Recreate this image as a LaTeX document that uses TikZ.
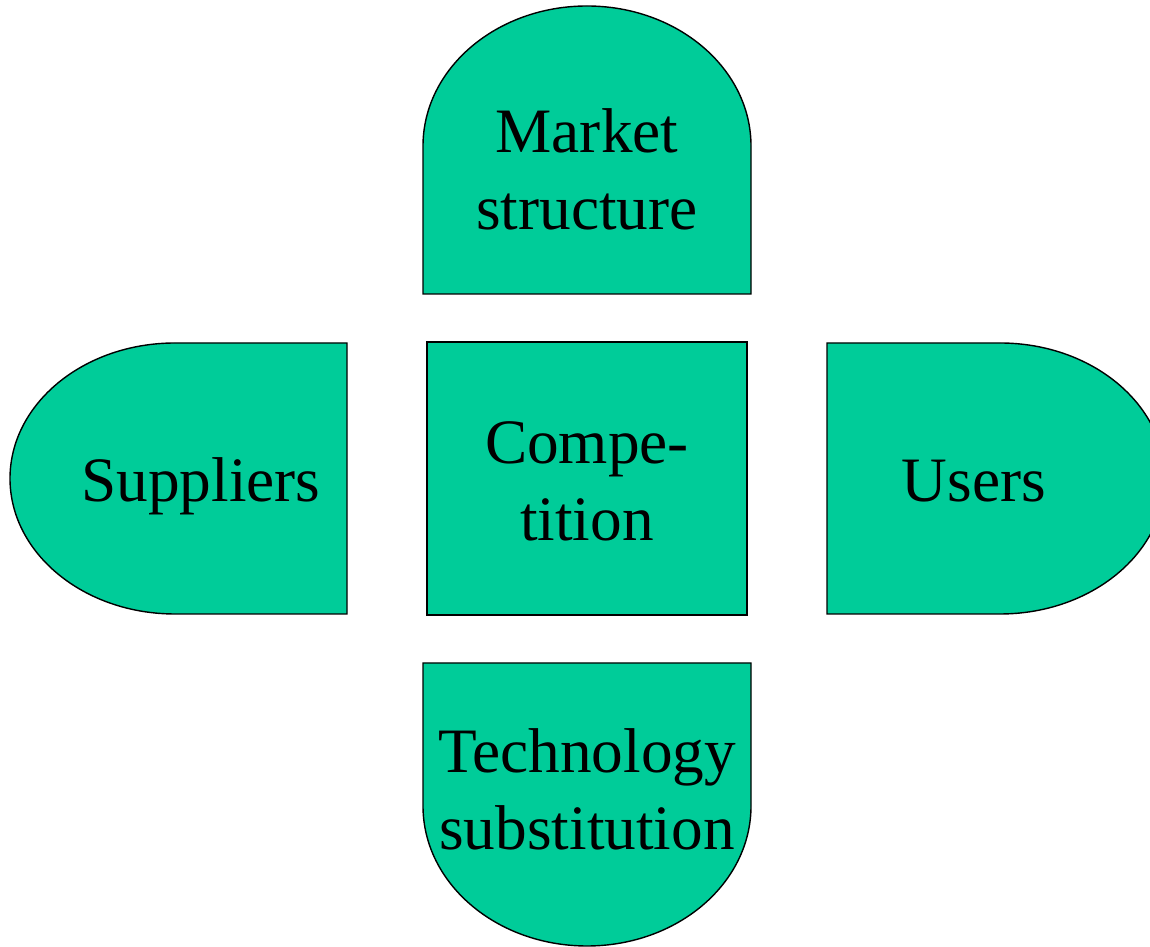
\documentclass[tikz,border=0pt]{standalone}
\usepackage{fontspec}
\setmainfont{Liberation Serif}
\definecolor{dgreen}{HTML}{00CC99}
\begin{document}
\begin{tikzpicture}
        \tikzstyle{every node} = [font=\fontsize{36}{44}\selectfont, align=center, anchor=base]
        \tikzstyle{dshape} = [fill=dgreen, draw=black, line width=0.8pt]
            \useasboundingbox (0,0) rectangle (23,18.94);
            \begin{scope}
                   % top
                   \filldraw[dshape] (8.46,13.06) -- (8.46,16.02)
                       arc[start angle=180, end angle=0, x radius=3.28, y radius=2.8]
                       -- (15.02,13.06) -- cycle;
                   \node (market) at (11.74,14.34) {Market\\structure};

                   % middle
                   \filldraw[dshape] (8.54,6.64) rectangle (14.94,12.10);
                   \node (compe) at (11.74,8.12) {Compe-\\tition};

                   % left
                   \filldraw[dshape] (6.94,6.66) -- (3.5,6.66)
                       arc[start angle=270, end angle=90, x radius=3.3, y radius=2.71]
                       -- (6.94,12.08) -- cycle;
                   \node (suppl) at (4.02,8.9) {Suppliers};

                   % right
                   \filldraw[dshape] (16.54,6.66) -- (20,6.66)
                       arc[start angle=-90, end angle=90, x radius=3.3, y radius=2.71]
                       -- (16.54,12.08) -- cycle;
                   \node (users) at (19.48,8.9) {Users};

                   % bottom
                   \filldraw[dshape] (8.46,5.68) -- (8.46,2.82)
                       arc[start angle=180, end angle=360, x radius=3.28, y radius=2.8]
                       -- (15.02,5.68) -- cycle;
                   \node (techno) at (11.74,1.94) {Technology\\substitution};
             \end{scope}
\end{tikzpicture}
\end{document}
